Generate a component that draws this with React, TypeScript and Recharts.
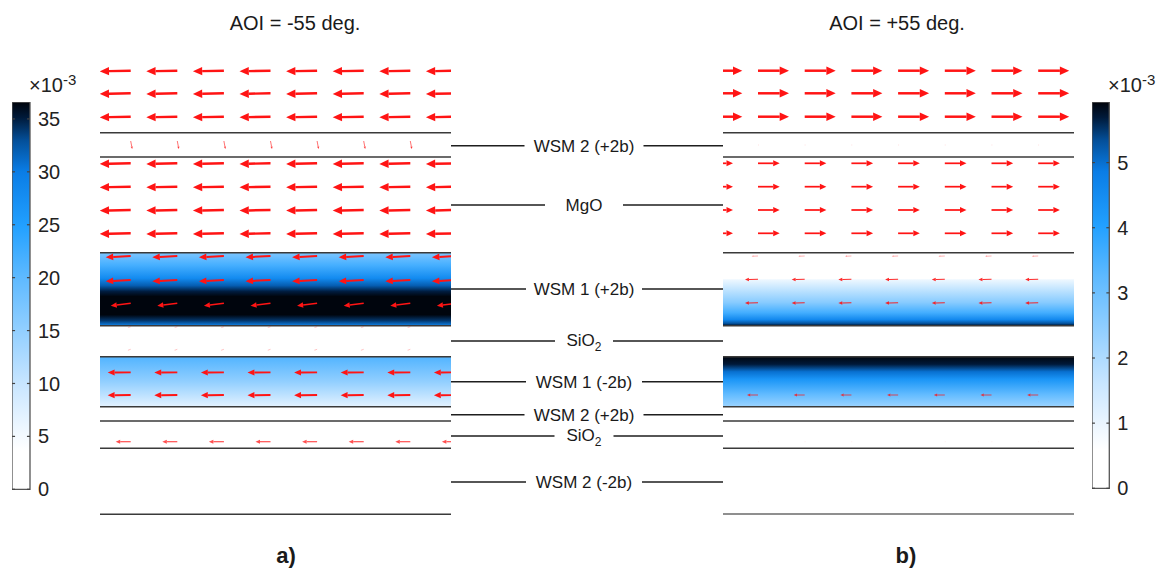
import React from "react";
import {
  ComposedChart,
  XAxis,
  YAxis,
  Scatter,
  ReferenceLine,
  ReferenceArea,
} from "recharts";

const FONT = '"Liberation Sans", Arial, Helvetica, sans-serif';

// depth of every layer boundary, measured from top of the stack (px-equivalent units)
const leftBoundaries = [72.7, 97, 192.7, 265.7, 296.7, 346.7, 361, 388.3, 454.3];
const rightBoundaries = [72.7, 97, 192.7, 265.7, 296.7, 346.7, 361, 388.3, 454];

// colour-mapped field inside the WSM 1 layers (|E|, x10^-3), top -> bottom
const leftBand1Extent = [192.7, 265.7];
const leftBand1Offsets = [0, 0.17, 0.35, 0.45, 0.53, 0.6, 0.85, 0.93, 1];
const leftBand1Values = [17, 22, 28, 32, 35, 36.5, 36.5, 34, 29];
const leftBand2Extent = [296.7, 346.7];
const leftBand2Offsets = [0, 0.5, 1];
const leftBand2Values = [21, 15, 7];

const rightBand1Extent = [219.3, 265.7];
const rightBand1Offsets = [0, 0.5, 0.72, 0.87, 0.95, 1];
const rightBand1Values = [0.9, 2.6, 3.6, 4.6, 5.3, 5.8];
const rightBand2Extent = [296.7, 346.7];
const rightBand2Offsets = [0, 0.15, 0.3, 0.45, 0.75, 1];
const rightBand2Values = [5.9, 5.7, 5.0, 4.3, 3.2, 2.3];

// colour bars
const leftBarMax = 36.6;
const leftBarTicks = [0, 5, 10, 15, 20, 25, 30, 35];
const rightBarMax = 5.93;
const rightBarTicks = [0, 1, 2, 3, 4, 5];

// colormap (fraction of max -> colour)
const cmapPos = [0, 0.1, 0.15, 0.27, 0.41, 0.55, 0.68, 0.82, 0.9, 0.96, 1];
const cmapColors = [
  "#ffffff", "#ffffff", "#f0f8ff", "#c9e6ff", "#92cfff", "#5db9ff",
  "#22a0ff", "#0a7de6", "#04509a", "#001a3a", "#00030a",
];

// arrow grid (tail positions) and per-row vectors
const leftCols = [30.7, 77.3, 123.9, 170.5, 217.1, 263.7, 310.3, 356.9];
const leftRowDepth = [10.7, 33.3, 56.7, 81, 103.3, 126.7, 150, 173.3, 196, 220, 243.3, 266.7, 289.3, 312.3, 335, 381.7];
const leftRowDx = [-31, -31, -31, 1.5, -31, -31, -31, -31, -25, -25, -20, -3, -3, -23, -23, -15];
const leftRowDy = [0.6, 0.6, 0.6, 8, 0.6, 0.6, 0.6, 0.6, 1.3, 1.3, 2.4, 1, 1, 0.3, 0.3, 0];
const leftRowAlpha = [1, 1, 1, 0.85, 1, 1, 1, 1, 1, 1, 1, 0.35, 0.35, 1, 1, 0.75];

const rightCols = [-11.7, 35, 81.7, 128.4, 175.1, 221.8, 268.5, 315.2];
const rightRowDepth = [10.7, 33.3, 56.7, 85, 103.3, 126.7, 150, 173.3, 196, 219.3, 242.7, 335, 381.7];
const rightRowDx = [31, 31, 31, 1, 21.7, 21.7, 21.7, 21.7, -6.3, -13, -13, -11, 1];
const rightRowDy = [0, 0, 0, 0, 0, 0, 0, 0, 0.3, 0.3, 0.3, 0, 0];
const rightRowAlpha = [1, 1, 1, 0.2, 1, 1, 1, 1, 0.45, 0.9, 0.9, 0.8, 0.12];

// layer names in the middle column
const layerNames = ["WSM 2 (+2b)", "MgO", "WSM 1 (+2b)", "SiO2", "WSM 1 (-2b)", "WSM 2 (+2b)", "SiO2", "WSM 2 (-2b)"];
const layerNameDepth = [85.7, 145, 229, 281, 321.7, 354.7, 376, 422];
const layerNameGap = [119, 78, 116, 58, 116, 119, 59, 116];

const PANEL_W = 351;
const PANEL_H = 470;
const MID_W = 272;
const MID_CENTER = 133;

function hexToRgb(h: string) {
  const n = parseInt(h.slice(1), 16);
  return [(n >> 16) & 255, (n >> 8) & 255, n & 255];
}

function cmap(f: number): string {
  const v = Math.max(0, Math.min(1, f));
  let i = 0;
  while (i < cmapPos.length - 2 && v > cmapPos[i + 1]) i++;
  const t = (v - cmapPos[i]) / (cmapPos[i + 1] - cmapPos[i] || 1);
  const a = hexToRgb(cmapColors[i]);
  const b = hexToRgb(cmapColors[i + 1]);
  const c = a.map((x, k) => Math.round(x + (b[k] - x) * t));
  return `rgb(${c[0]},${c[1]},${c[2]})`;
}

function buildArrows(cols: number[], depth: number[], dx: number[], dy: number[], alpha: number[]) {
  const out: any[] = [];
  cols.forEach((x) =>
    depth.forEach((d, i) => out.push({ x, y: d, dx: dx[i], dy: dy[i], alpha: alpha[i] }))
  );
  return out;
}

const leftArrows = buildArrows(leftCols, leftRowDepth, leftRowDx, leftRowDy, leftRowAlpha);
const rightArrows = buildArrows(rightCols, rightRowDepth, rightRowDx, rightRowDy, rightRowAlpha);

function Arrow(props: any) {
  const { cx, cy, payload } = props;
  if (cx == null || cy == null) return null;
  const { dx, dy, alpha } = payload;
  const len = Math.hypot(dx, dy);
  if (!len) return <g />;
  const ux = dx / len;
  const uy = dy / len;
  const hl = Math.min(len * 0.3, 9.5);
  const hw = hl * 0.45;
  const x2 = cx + dx;
  const y2 = cy + dy;
  const bx = x2 - ux * hl;
  const by = y2 - uy * hl;
  return (
    <g opacity={alpha}>
      <line x1={cx} y1={cy} x2={bx} y2={by} stroke="#ff1414" strokeWidth={Math.max(0.7, len * 0.08)} />
      <polygon
        points={`${x2},${y2} ${bx - uy * hw},${by + ux * hw} ${bx + uy * hw},${by - ux * hw}`}
        fill="#ff1414"
      />
    </g>
  );
}

function BandGradient({ id, offsets, values, max }: { id: string; offsets: number[]; values: number[]; max: number }) {
  return (
    <linearGradient id={id} x1="0" y1="0" x2="0" y2="1">
      {offsets.map((o, i) => (
        <stop key={i} offset={o} stopColor={cmap(values[i] / max)} />
      ))}
    </linearGradient>
  );
}

function Panel({
  side,
  boundaries,
  arrows,
  bands,
  left,
}: {
  side: string;
  boundaries: number[];
  arrows: any[];
  bands: { id: string; extent: number[]; offsets: number[]; values: number[]; max: number }[];
  left: number;
}) {
  return (
    <div style={{ position: "absolute", left, top: 60 }}>
      <ComposedChart width={PANEL_W} height={PANEL_H} margin={{ top: 0, right: 0, bottom: 0, left: 0 }}>
        <defs>
          {bands.map((b) => (
            <BandGradient key={b.id} id={b.id} offsets={b.offsets} values={b.values} max={b.max} />
          ))}
        </defs>
        <XAxis type="number" dataKey="x" domain={[0, PANEL_W]} allowDataOverflow hide />
        <YAxis type="number" dataKey="y" domain={[0, PANEL_H]} reversed allowDataOverflow hide />
        {bands.map((b) => (
          <ReferenceArea
            key={b.id}
            x1={0}
            x2={PANEL_W}
            y1={b.extent[0]}
            y2={b.extent[1]}
            fill={`url(#${b.id})`}
            fillOpacity={1}
            stroke="none"
          />
        ))}
        {boundaries.map((d, i) => (
          <ReferenceLine
            key={`${side}-l${i}`}
            y={d}
            stroke={i === boundaries.length - 1 && side === "r" ? "#6a6a6a" : "#3a3a3a"}
            strokeWidth={1.4}
          />
        ))}
        <Scatter data={arrows} dataKey="y" shape={Arrow} isAnimationActive={false} />
      </ComposedChart>
    </div>
  );
}

function LayerLabel(props: any) {
  const { cx, cy, payload } = props;
  if (cx == null || cy == null) return null;
  const name: string = payload.name;
  const style = { fontFamily: FONT, fontSize: 17, fill: "#1a1a1a" } as any;
  if (name === "SiO2") {
    return (
      <text x={cx} y={cy + 5} textAnchor="middle" style={style}>
        SiO
        <tspan fontSize={12} dy={5}>
          2
        </tspan>
      </text>
    );
  }
  return (
    <text x={cx} y={cy + 6} textAnchor="middle" style={style}>
      {name}
    </text>
  );
}

function MiddleLabels() {
  const pts = layerNames.map((n, i) => ({ x: MID_CENTER, y: layerNameDepth[i], name: n }));
  return (
    <div style={{ position: "absolute", left: 451, top: 60 }}>
      <ComposedChart width={MID_W} height={PANEL_H} margin={{ top: 0, right: 0, bottom: 0, left: 0 }}>
        <XAxis type="number" dataKey="x" domain={[0, MID_W]} allowDataOverflow hide />
        <YAxis type="number" dataKey="y" domain={[0, PANEL_H]} reversed allowDataOverflow hide />
        {layerNameDepth.map((d, i) => (
          <ReferenceLine
            key={`a${i}`}
            segment={[
              { x: 0, y: d },
              { x: MID_CENTER - layerNameGap[i] / 2, y: d },
            ]}
            stroke="#1e1e1e"
            strokeWidth={1.4}
          />
        ))}
        {layerNameDepth.map((d, i) => (
          <ReferenceLine
            key={`b${i}`}
            segment={[
              { x: MID_CENTER + layerNameGap[i] / 2, y: d },
              { x: MID_W, y: d },
            ]}
            stroke="#1e1e1e"
            strokeWidth={1.4}
          />
        ))}
        <Scatter data={pts} dataKey="y" shape={LayerLabel} isAnimationActive={false} />
      </ComposedChart>
    </div>
  );
}

function ColorBar({
  id,
  max,
  ticks,
  left,
  top,
  height,
  barWidth,
}: {
  id: string;
  max: number;
  ticks: number[];
  left: number;
  top: number;
  height: number;
  barWidth: number;
}) {
  const data = ticks.map((t) => ({ x: 0.5, y: t }));
  return (
    <div style={{ position: "absolute", left, top }}>
      <ComposedChart
        width={barWidth + 50}
        height={height + 14}
        data={data}
        margin={{ top: 0, right: 0, bottom: 14, left: 0 }}
      >
        <defs>
          <linearGradient id={id} x1="0" y1="1" x2="0" y2="0">
            {cmapPos.map((p, i) => (
              <stop key={i} offset={p} stopColor={cmapColors[i]} />
            ))}
          </linearGradient>
        </defs>
        <XAxis type="number" dataKey="x" domain={[0, 1]} allowDataOverflow hide />
        <YAxis
          type="number"
          dataKey="y"
          orientation="right"
          domain={[0, max]}
          allowDataOverflow
          ticks={ticks}
          width={50}
          tickLine={false}
          axisLine={false}
          tickSize={0}
          tickMargin={8}
          tick={{ fontSize: 20, fill: "#222", fontFamily: FONT }}
        />
        <ReferenceArea
          x1={0}
          x2={1}
          y1={0}
          y2={max}
          fill={`url(#${id})`}
          fillOpacity={1}
          stroke="#555"
          strokeWidth={1.3}
        />
        {ticks.map((t) => (
          <ReferenceLine
            key={`l${t}`}
            segment={[
              { x: 0, y: t },
              { x: 0.17, y: t },
            ]}
            stroke="#444"
            strokeWidth={1.2}
          />
        ))}
        {ticks.map((t) => (
          <ReferenceLine
            key={`r${t}`}
            segment={[
              { x: 0.83, y: t },
              { x: 1, y: t },
            ]}
            stroke="#444"
            strokeWidth={1.2}
          />
        ))}
      </ComposedChart>
    </div>
  );
}

function Exponent({ left }: { left: number }) {
  return (
    <div
      style={{
        position: "absolute",
        left,
        top: 75,
        fontFamily: FONT,
        fontSize: 20,
        lineHeight: "20px",
        color: "#222",
        whiteSpace: "nowrap",
      }}
    >
      ×10
      <span style={{ fontSize: 15, position: "relative", top: -7 }}>-3</span>
    </div>
  );
}

function Caption({ text, center, top, size, bold }: { text: string; center: number; top: number; size: number; bold?: boolean }) {
  return (
    <div
      style={{
        position: "absolute",
        left: center - 100,
        width: 200,
        top,
        textAlign: "center",
        fontFamily: FONT,
        fontSize: size,
        lineHeight: `${size}px`,
        fontWeight: bold ? "bold" : "normal",
        color: "#1a1a1a",
      }}
    >
      {text}
    </div>
  );
}

export default function App() {
  return (
    <div
      style={{
        position: "absolute",
        left: 0,
        top: 0,
        width: 1163,
        height: 572,
        background: "#fff",
        overflow: "hidden",
      }}
    >
      <Caption text="AOI = -55 deg." center={295} top={13} size={20} />
      <Caption text="AOI = +55 deg." center={897} top={13} size={20} />

      <Exponent left={29} />
      <Exponent left={1108} />
      <ColorBar id="cbl" max={leftBarMax} ticks={leftBarTicks} left={12} top={101.7} height={387.3} barWidth={18} />
      <ColorBar id="cbr" max={rightBarMax} ticks={rightBarTicks} left={1091.7} top={101.7} height={386.3} barWidth={17.3} />

      <Panel
        side="l"
        left={100}
        boundaries={leftBoundaries}
        arrows={leftArrows}
        bands={[
          { id: "lb1", extent: leftBand1Extent, offsets: leftBand1Offsets, values: leftBand1Values, max: leftBarMax },
          { id: "lb2", extent: leftBand2Extent, offsets: leftBand2Offsets, values: leftBand2Values, max: leftBarMax },
        ]}
      />
      <MiddleLabels />
      <Panel
        side="r"
        left={723}
        boundaries={rightBoundaries}
        arrows={rightArrows}
        bands={[
          { id: "rb1", extent: rightBand1Extent, offsets: rightBand1Offsets, values: rightBand1Values, max: rightBarMax },
          { id: "rb2", extent: rightBand2Extent, offsets: rightBand2Offsets, values: rightBand2Values, max: rightBarMax },
        ]}
      />

      <Caption text="a)" center={286} top={545} size={22} bold />
      <Caption text="b)" center={906} top={545} size={22} bold />
    </div>
  );
}
